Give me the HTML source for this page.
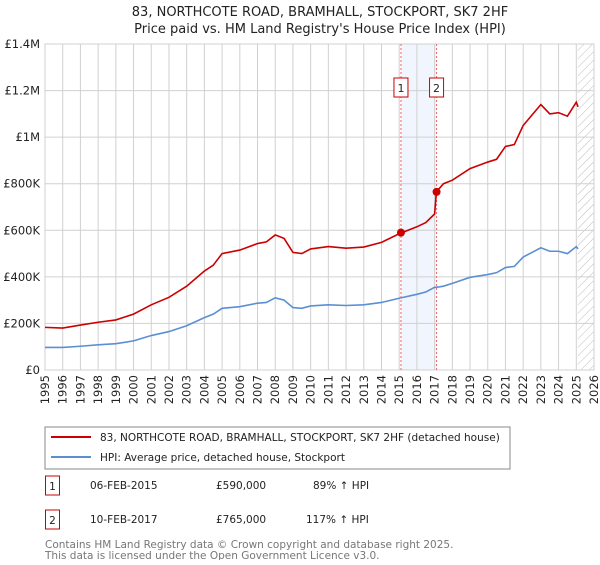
<!DOCTYPE html>
<html><head><meta charset="utf-8"><style>
body{margin:0;background:#fff;font-family:"Liberation Sans","DejaVu Sans",sans-serif;}
svg text{font-family:"DejaVu Sans","Liberation Sans",sans-serif;}
</style></head><body>
<svg id="c" width="600" height="560" xmlns="http://www.w3.org/2000/svg">
<defs><pattern id="hatch" width="6" height="6" patternUnits="userSpaceOnUse" patternTransform="rotate(45)"><line x1="0" y1="0" x2="0" y2="6" stroke="#bbb" stroke-width="1"/></pattern></defs>
<text x="320" y="16" text-anchor="middle" font-size="13" fill="#222">83, NORTHCOTE ROAD, BRAMHALL, STOCKPORT, SK7 2HF</text>
<text x="320" y="33" text-anchor="middle" font-size="13" fill="#222">Price paid vs. HM Land Registry's House Price Index (HPI)</text>
<g id="grid"></g><g id="marks"></g><g id="axes"></g>
<rect x="45" y="427" width="465" height="42" fill="#fff" stroke="#888"/>
<line x1="51" y1="437" x2="91" y2="437" stroke="#cc0000" stroke-width="2"/>
<text x="100" y="441" font-size="10.5" fill="#222">83, NORTHCOTE ROAD, BRAMHALL, STOCKPORT, SK7 2HF (detached house)</text>
<line x1="51" y1="457" x2="91" y2="457" stroke="#5b8fd4" stroke-width="2"/>
<text x="100" y="461" font-size="10.5" fill="#222">HPI: Average price, detached house, Stockport</text>
<g font-size="10.5" fill="#222">
<rect x="45.5" y="476" width="14" height="19" fill="#fff" stroke="#cc0000"/><text x="52.5" y="490" text-anchor="middle">1</text>
<text x="90" y="489">06-FEB-2015</text><text x="216" y="489">£590,000</text><text x="313" y="489">89% ↑ HPI</text></g>
<g font-size="10.5" fill="#222">
<rect x="45.5" y="510" width="14" height="19" fill="#fff" stroke="#cc0000"/><text x="52.5" y="524" text-anchor="middle">2</text>
<text x="90" y="523">10-FEB-2017</text><text x="216" y="523">£765,000</text><text x="306" y="523">117% ↑ HPI</text></g>
<text x="45" y="548" font-size="10.5" fill="#777">Contains HM Land Registry data © Crown copyright and database right 2025.</text>
<text x="45" y="559" font-size="10.5" fill="#777">This data is licensed under the Open Government Licence v3.0.</text>
</svg>
<script>
const years=[1995,1996,1997,1998,1999,2000,2001,2002,2003,2004,2004.5,2005,2006,2007,2007.5,2008,2008.5,2009,2009.5,2010,2011,2012,2013,2014,2015,2016,2016.5,2017,2017.1,2017.5,2018,2019,2020,2020.5,2021,2021.5,2022,2022.5,2023,2023.5,2024,2024.5,2025,2025.1];
const hpiValues=[97,97,102,108,113,125,148,165,190,225,240,265,272,287,290,310,300,268,265,275,280,277,280,290,308,325,335,355,355,360,372,398,410,418,440,445,485,505,525,510,510,500,530,520];
const priceValues=[183,180,193,205,215,240,280,312,360,425,450,500,515,543,550,580,565,505,500,520,530,523,528,548,585,615,633,670,765,800,815,865,893,905,960,968,1050,1095,1140,1100,1105,1090,1150,1130];
const saleYears=[2015.1,2017.11];
const saleValues=[590,765];
const saleLabels=["1","2"];
const yTicks=[0,200,400,600,800,1000,1200,1400];
const yTickLabels=["£0","£200K","£400K","£600K","£800K","£1M","£1.2M","£1.4M"];
const xTicks=[1995,1996,1997,1998,1999,2000,2001,2002,2003,2004,2005,2006,2007,2008,2009,2010,2011,2012,2013,2014,2015,2016,2017,2018,2019,2020,2021,2022,2023,2024,2025,2026];
const L=45,R=594,T=44,B=370,X0=1995,X1=2026,Ymax=1400;
const xs=v=>L+(v-X0)/(X1-X0)*(R-L);
const ys=v=>B-v/Ymax*(B-T);
const NS="http://www.w3.org/2000/svg";
function mk(p,t,a){const e=document.createElementNS(NS,t);for(const k in a)e.setAttribute(k,a[k]);p.appendChild(e);return e;}
const grid=document.getElementById('grid'),marks=document.getElementById('marks'),axes=document.getElementById('axes');
let r=mk(grid,'rect',{x:L,y:T,width:R-L,height:B-T,fill:'#fff',stroke:'#ccc'});


let sh=mk(grid,'rect',{x:xs(saleYears[0]),y:T,width:xs(saleYears[1])-xs(saleYears[0]),height:B-T,fill:'#eef3fc',opacity:0.8});


let hz=mk(grid,'rect',{x:xs(2025.08),y:T,width:R-xs(2025.08),height:B-T,fill:'url(#hatch)'});


xTicks.forEach(t=>{
 const g=mk(grid,'line',{x1:xs(t),x2:xs(t),y1:T,y2:B,stroke:'#d0d0d0'});
 
 
 const tx=mk(axes,'text',{x:0,y:0,'font-size':'11.5',fill:'#222','text-anchor':'end',transform:`translate(${xs(t)+4},${B+5}) rotate(-90)`});
 tx.textContent=t;
 
 
});
yTicks.forEach((t,i)=>{
 const g=mk(grid,'line',{x1:L,x2:R,y1:ys(t),y2:ys(t),stroke:'#d0d0d0'});
 
 
 const tx=mk(axes,'text',{x:L-5,y:ys(t)+4,'font-size':'11.5',fill:'#222','text-anchor':'end'});
 tx.textContent=yTickLabels[i];
 
 
});
saleYears.forEach((s,i)=>{
 const l=mk(marks,'line',{x1:xs(s),x2:xs(s),y1:T,y2:B,stroke:'#e66','stroke-dasharray':'2,2'});
 
 
});
const line=(vals,col,name)=>{const p=mk(marks,'polyline',{points:years.map((y,i)=>xs(y)+','+ys(vals[i])).join(' '),fill:'none',stroke:col,'stroke-width':1.6});
 
 };
line(hpiValues,'#5b8fd4','hpi-line');
line(priceValues,'#cc0000','price-line');
saleYears.forEach((s,i)=>{
 const c=mk(marks,'circle',{cx:xs(s),cy:ys(saleValues[i]),r:4,fill:'#cc0000'});
 
 
 const b=mk(marks,'rect',{x:xs(s)-7,y:78,width:14,height:19,fill:'#fff',stroke:'#cc0000'});
 
 
 const t=mk(marks,'text',{x:xs(s),y:92,'font-size':'11','text-anchor':'middle',fill:'#222'});
 t.textContent=saleLabels[i];
 
 
});
</script>
</body></html>
